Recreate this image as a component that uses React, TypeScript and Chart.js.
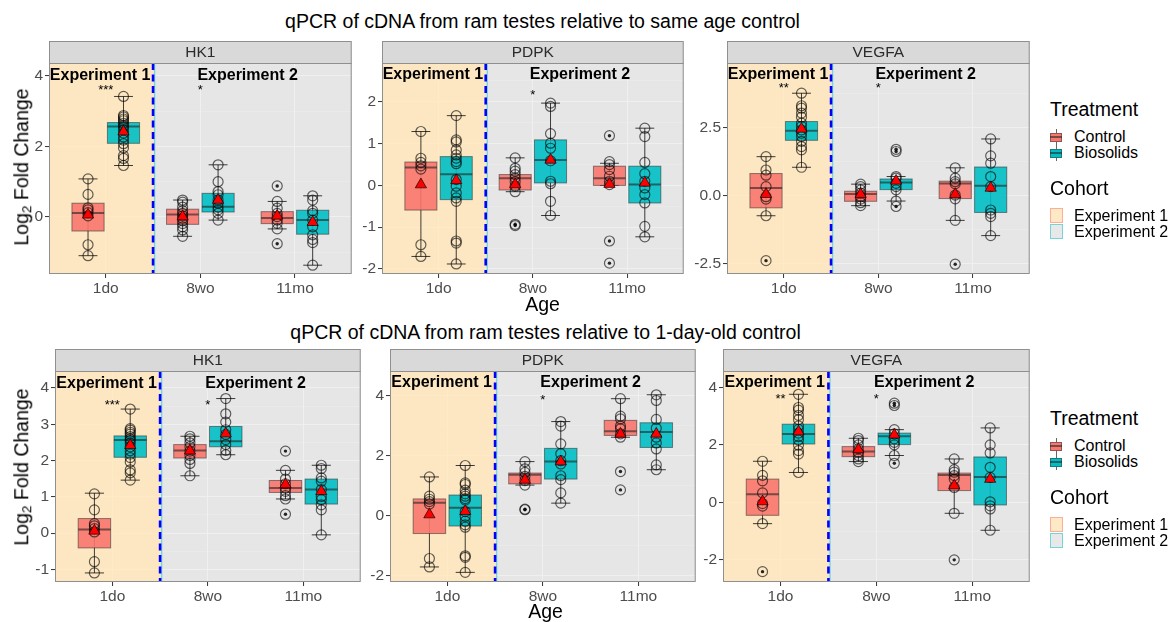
import React, { useEffect, useRef } from "react";
import { Chart, registerables } from "chart.js";

Chart.register(...registerables);

const FONT = "'Liberation Sans', Arial, Helvetica, sans-serif";

// ---------- labels ----------
const ageLabels = ["1do", "8wo", "11mo"];
const treatmentLabels = ["Control", "Biosolids"];
const cohortLabels = ["Experiment 1", "Experiment 2"];
const geneLabels = ["HK1", "PDPK", "VEGFA"];
const rowTitles = [
  "qPCR of cDNA from ram testes relative to same age control",
  "qPCR of cDNA from ram testes relative to 1-day-old control",
];
const treatmentColors = ["#F8766D", "#00BFC4"];

// group order: Control 1do, Biosolids 1do, Control 8wo, Biosolids 8wo, Control 11mo, Biosolids 11mo
// box = [lower whisker, Q1, median, Q3, upper whisker]

// ---------- row 1: relative to same age control ----------
const sameHK1Points = [
  [1.08, 0.64, 0.26, 0.2, 0.12, 0.03, -0.79, -1.1],
  [3.42, 2.88, 2.84, 2.78, 2.73, 2.66, 2.6, 2.55, 2.48, 2.38, 2.27, 2.18, 2.08, 1.96, 1.74, 1.66, 1.46],
  [0.48, 0.42, 0.28, 0.18, 0.1, 0.03, -0.04, -0.11, -0.19, -0.28, -0.37, -0.55],
  [1.48, 1.0, 0.72, 0.63, 0.48, 0.39, 0.28, 0.2, 0.1, -0.09],
  [0.88, 0.44, 0.25, 0.1, 0.01, -0.09, -0.18, -0.34, -0.76],
  [0.6, 0.48, 0.18, 0.1, -0.09, -0.28, -0.51, -0.64, -0.73, -1.37],
];
const sameHK1Boxes = [
  [-1.1, -0.4, 0.11, 0.39, 1.08],
  [1.46, 2.09, 2.57, 2.68, 3.42],
  [-0.55, -0.21, 0.07, 0.22, 0.48],
  [-0.09, 0.14, 0.29, 0.67, 1.48],
  [-0.34, -0.19, -0.03, 0.15, 0.44],
  [-1.37, -0.49, -0.09, 0.19, 0.6],
];
const sameHK1Means = [0.06, 2.42, 0.01, 0.48, 0.03, -0.15];
const sameHK1Outliers = [[], [], [], [], [0.88, -0.76], []];
const sameHK1Ticks = [0, 2, 4];
const sameHK1TickLabels = ["0", "2", "4"];
const sameHK1Range = [-1.62, 4.37];
const sameHK1Stars = ["***", "*", ""];

const samePDPKPoints = [
  [1.29, 0.65, 0.55, 0.47, 0.39, -1.42, -1.7],
  [1.67, 1.09, 1.04, 0.85, 0.73, 0.65, 0.57, 0.52, 0.14, -0.02, -0.18, -0.3, -0.38, -1.33, -1.38, -1.88],
  [0.66, 0.41, 0.34, 0.26, 0.18, 0.09, -0.02, -0.15, -0.93, -0.96],
  [1.97, 1.89, 1.24, 1.01, 0.89, 0.59, 0.1, 0.04, -0.38, -0.72],
  [1.19, 0.57, 0.5, 0.38, 0.22, 0.1, 0.02, -1.33, -1.86],
  [1.37, 1.17, 0.55, 0.28, 0.1, -0.06, -0.22, -0.42, -0.98, -1.23],
];
const samePDPKBoxes = [
  [-1.7, -0.59, 0.43, 0.56, 1.29],
  [-1.88, -0.34, 0.27, 0.69, 1.67],
  [-0.15, -0.11, 0.17, 0.26, 0.66],
  [-0.72, 0.06, 0.61, 1.09, 1.97],
  [0.0, 0.0, 0.17, 0.46, 0.53],
  [-1.23, -0.42, 0.02, 0.46, 1.37],
];
const samePDPKMeans = [0.02, 0.12, 0.02, 0.61, 0.03, 0.06];
const samePDPKOutliers = [[], [], [-0.93, -0.96], [], [1.19, -1.33, -1.86], []];
const samePDPKTicks = [-2, -1, 0, 1, 2];
const samePDPKTickLabels = ["-2", "-1", "0", "1", "2"];
const samePDPKRange = [-2.12, 2.93];
const samePDPKStars = ["", "*", ""];

const sameVEGFAPoints = [
  [1.43, 0.94, 0.75, 0.33, -0.04, -0.13, -0.74, -2.39],
  [3.76, 3.3, 3.21, 3.03, 2.88, 2.66, 2.54, 2.41, 2.29, 2.17, 1.99, 1.8, 1.68, 1.04],
  [0.42, 0.33, 0.21, 0.09, -0.04, -0.13, -0.26, -0.37],
  [1.7, 1.62, 0.7, 0.64, 0.45, 0.33, 0.21, -0.2, -0.4],
  [1.02, 0.64, 0.51, 0.43, 0.02, -0.12, -0.91, -2.52],
  [2.08, 1.46, 1.19, 0.7, 0.33, -0.53, -0.65, -0.77, -1.47],
];
const sameVEGFABoxes = [
  [-0.74, -0.45, 0.28, 0.81, 1.43],
  [1.04, 2.03, 2.38, 2.72, 3.76],
  [-0.37, -0.21, 0.06, 0.16, 0.42],
  [-0.2, 0.22, 0.48, 0.61, 0.7],
  [-0.91, -0.11, 0.44, 0.53, 1.02],
  [-1.47, -0.62, 0.36, 1.05, 2.08],
];
const sameVEGFAMeans = [0.05, 2.45, 0.05, 0.54, 0.05, 0.28];
const sameVEGFAOutliers = [[-2.39], [], [], [1.7, 1.62, -0.4], [-2.52], []];
const sameVEGFATicks = [-2.5, 0, 2.5];
const sameVEGFATickLabels = ["-2.5", "0.0", "2.5"];
const sameVEGFARange = [-2.88, 4.87];
const sameVEGFAStars = ["**", "*", ""];

// ---------- row 2: relative to 1-day-old control ----------
const oneHK1Points = [
  [1.08, 0.64, 0.26, 0.2, 0.12, 0.03, -0.79, -1.1],
  [3.42, 2.88, 2.84, 2.78, 2.73, 2.66, 2.6, 2.55, 2.48, 2.38, 2.27, 2.18, 2.08, 1.96, 1.74, 1.66, 1.46],
  [2.67, 2.6, 2.49, 2.38, 2.26, 2.14, 2.03, 1.92, 1.58],
  [3.71, 3.29, 3.06, 2.85, 2.72, 2.58, 2.44, 2.28, 2.16],
  [2.26, 1.73, 1.49, 1.36, 1.24, 1.15, 1.03, 0.94, 0.52],
  [1.87, 1.78, 1.52, 1.43, 1.2, 1.01, 0.92, 0.78, 0.64, -0.05],
];
const oneHK1Boxes = [
  [-1.1, -0.41, 0.1, 0.4, 1.1],
  [1.46, 2.09, 2.57, 2.68, 3.42],
  [1.58, 2.07, 2.28, 2.44, 2.67],
  [2.16, 2.38, 2.53, 2.94, 3.71],
  [0.94, 1.12, 1.24, 1.45, 1.73],
  [-0.05, 0.8, 1.2, 1.49, 1.87],
];
const oneHK1Means = [0.06, 2.42, 2.27, 2.74, 1.34, 1.15];
const oneHK1Outliers = [[], [], [], [], [2.26, 0.52], []];
const oneHK1Ticks = [-1, 0, 1, 2, 3, 4];
const oneHK1TickLabels = ["-1", "0", "1", "2", "3", "4"];
const oneHK1Range = [-1.35, 4.47];
const oneHK1Stars = ["***", "*", ""];

const onePDPKPoints = [
  [1.29, 0.65, 0.55, 0.47, 0.39, -1.42, -1.7],
  [1.67, 1.09, 1.04, 0.85, 0.73, 0.65, 0.57, 0.52, 0.14, -0.02, -0.18, -0.3, -0.38, -1.33, -1.38, -1.88],
  [1.8, 1.56, 1.44, 1.31, 1.17, 1.02, 0.22, 0.2],
  [3.13, 2.98, 2.39, 2.06, 1.83, 1.72, 1.33, 1.2, 0.76, 0.42],
  [3.89, 3.31, 3.22, 2.98, 2.89, 2.72, 2.61, 1.47, 0.86],
  [4.02, 3.83, 3.2, 2.91, 2.61, 2.42, 2.22, 1.69, 1.53],
];
const onePDPKBoxes = [
  [-1.7, -0.59, 0.43, 0.56, 1.29],
  [-1.88, -0.34, 0.27, 0.69, 1.67],
  [1.02, 1.06, 1.36, 1.42, 1.8],
  [0.42, 1.22, 1.8, 2.24, 3.13],
  [2.61, 2.67, 2.81, 3.17, 3.89],
  [1.53, 2.27, 2.78, 3.09, 4.02],
];
const onePDPKMeans = [0.04, 0.15, 1.19, 1.8, 2.72, 2.72];
const onePDPKOutliers = [[], [], [0.22, 0.2], [], [1.47, 0.86], []];
const onePDPKTicks = [-2, 0, 2, 4];
const onePDPKTickLabels = ["-2", "0", "2", "4"];
const onePDPKRange = [-2.2, 4.81];
const onePDPKStars = ["", "*", ""];

const oneVEGFAPoints = [
  [1.43, 0.94, 0.75, 0.33, -0.04, -0.13, -0.74, -2.41],
  [3.76, 3.3, 3.21, 3.03, 2.88, 2.66, 2.54, 2.41, 2.29, 2.17, 1.99, 1.8, 1.68, 1.04],
  [2.23, 2.15, 2.0, 1.86, 1.74, 1.63, 1.51, 1.42],
  [3.45, 3.37, 2.53, 2.38, 2.21, 2.09, 2.0, 1.63, 1.36],
  [1.51, 1.14, 1.05, 0.93, 0.81, 0.52, -0.38, -2.0],
  [2.59, 2.0, 1.72, 1.22, 0.87, 0.02, -0.12, -0.23, -0.97],
];
const oneVEGFABoxes = [
  [-0.74, -0.45, 0.28, 0.81, 1.43],
  [1.04, 2.03, 2.38, 2.72, 3.76],
  [1.42, 1.59, 1.77, 1.94, 2.23],
  [1.63, 2.01, 2.3, 2.41, 2.53],
  [-0.38, 0.41, 0.95, 1.02, 1.51],
  [-0.97, -0.09, 0.88, 1.58, 2.59],
];
const oneVEGFAMeans = [0.03, 2.46, 1.84, 2.35, 0.58, 0.81];
const oneVEGFAOutliers = [[-2.41], [], [], [3.45, 3.37, 1.36], [-2.0], []];
const oneVEGFATicks = [-2, 0, 2, 4];
const oneVEGFATickLabels = ["-2", "0", "2", "4"];
const oneVEGFARange = [-2.77, 4.57];
const oneVEGFAStars = ["**", "*", ""];

// ---------- geometry / style constants ----------
const X_MIN = 0.4;
const X_MAX = 3.6;
const COHORT_SPLIT = 1.5;
const DODGE = 0.1875;
const BOX_HALF = 0.17;
const CAP_HALF = 0.1;
const AXIS_W = 40;
const AXIS_H = 26;
const STRIP_H = 22;

type PanelData = {
  gene: string;
  points: number[][];
  boxes: number[][];
  means: number[];
  outliers: number[][];
  range: number[];
  ticks: number[];
  tickLabels: string[];
  stars: string[];
  expY: number;
  starY: number;
};

const rowPanels: PanelData[][] = [
  [
    { gene: geneLabels[0], points: sameHK1Points, boxes: sameHK1Boxes, means: sameHK1Means, outliers: sameHK1Outliers, range: sameHK1Range, ticks: sameHK1Ticks, tickLabels: sameHK1TickLabels, stars: sameHK1Stars, expY: 4.06, starY: 3.7 },
    { gene: geneLabels[1], points: samePDPKPoints, boxes: samePDPKBoxes, means: samePDPKMeans, outliers: samePDPKOutliers, range: samePDPKRange, ticks: samePDPKTicks, tickLabels: samePDPKTickLabels, stars: samePDPKStars, expY: 2.69, starY: 2.25 },
    { gene: geneLabels[2], points: sameVEGFAPoints, boxes: sameVEGFABoxes, means: sameVEGFAMeans, outliers: sameVEGFAOutliers, range: sameVEGFARange, ticks: sameVEGFATicks, tickLabels: sameVEGFATickLabels, stars: sameVEGFAStars, expY: 4.5, starY: 4.07 },
  ],
  [
    { gene: geneLabels[0], points: oneHK1Points, boxes: oneHK1Boxes, means: oneHK1Means, outliers: oneHK1Outliers, range: oneHK1Range, ticks: oneHK1Ticks, tickLabels: oneHK1TickLabels, stars: oneHK1Stars, expY: 4.17, starY: 3.64 },
    { gene: geneLabels[1], points: onePDPKPoints, boxes: onePDPKBoxes, means: onePDPKMeans, outliers: onePDPKOutliers, range: onePDPKRange, ticks: onePDPKTicks, tickLabels: onePDPKTickLabels, stars: onePDPKStars, expY: 4.48, starY: 3.98 },
    { gene: geneLabels[2], points: oneVEGFAPoints, boxes: oneVEGFABoxes, means: oneVEGFAMeans, outliers: oneVEGFAOutliers, range: oneVEGFARange, ticks: oneVEGFATicks, tickLabels: oneVEGFATickLabels, stars: oneVEGFAStars, expY: 4.22, starY: 3.72 },
  ],
];

const rowLayout = [
  { stripTop: 41, plotBottom: 274, xs: [[49, 358], [382, 690], [727, 1036]], titleY: 22, ageY: 305, yTitleY: 167, legendDy: 0 },
  { stripTop: 349, plotBottom: 582, xs: [[55, 367], [390, 702], [723, 1036]], titleY: 333, ageY: 612, yTitleY: 467, legendDy: 309 },
];

const groupX = (g: number) => Math.floor(g / 2) + 1 + (g % 2 === 0 ? -DODGE : DODGE);

function minorTicks(majors: number[], range: number[]) {
  const step = majors[1] - majors[0];
  const out: number[] = [];
  for (const m of majors) out.push(m - step / 2);
  out.push(majors[majors.length - 1] + step / 2);
  return out.filter((v) => v > range[0] && v < range[1]);
}

function isMajor(d: PanelData, v: number) {
  return d.ticks.some((t) => Math.abs(t - v) < 1e-9);
}

function makeDecor(d: PanelData) {
  return {
    id: "decor",
    beforeDraw(chart: any) {
      const { ctx, chartArea: a } = chart;
      ctx.save();
      ctx.fillStyle = "#EBEBEB";
      ctx.fillRect(a.left, a.top, a.right - a.left, a.bottom - a.top);
      ctx.restore();
    },
    beforeDatasetsDraw(chart: any) {
      const { ctx, chartArea: a, scales } = chart;
      const xs = scales.x;
      const ys = scales.y;
      const h = a.bottom - a.top;
      const xb = xs.getPixelForValue(COHORT_SPLIT);
      ctx.save();
      // cohort regions
      ctx.fillStyle = "rgba(255,230,186,0.84)";
      ctx.fillRect(a.left, a.top, xb - a.left, h);
      ctx.fillStyle = "rgba(224,224,224,0.45)";
      ctx.fillRect(xb, a.top, a.right - xb, h);
      ctx.strokeStyle = "rgba(0,191,196,0.5)";
      ctx.lineWidth = 1.2;
      ctx.beginPath();
      ctx.moveTo(xb + 1.6, a.top);
      ctx.lineTo(xb + 1.6, a.bottom);
      ctx.stroke();
      // dashed split line
      ctx.strokeStyle = "#0000FF";
      ctx.lineWidth = 2.6;
      ctx.setLineDash([7, 4.5]);
      ctx.beginPath();
      ctx.moveTo(xb, a.top);
      ctx.lineTo(xb, a.bottom);
      ctx.stroke();
      ctx.setLineDash([]);
      // box plots
      const unit = xs.getPixelForValue(2) - xs.getPixelForValue(1);
      d.boxes.forEach((b, g) => {
        const cx = xs.getPixelForValue(groupX(g));
        const [lo, q1, med, q3, hi] = b.map((v) => ys.getPixelForValue(v));
        const cap = CAP_HALF * unit;
        const bw = BOX_HALF * unit;
        ctx.strokeStyle = "rgba(0,0,0,0.75)";
        ctx.lineWidth = 1;
        ctx.beginPath();
        ctx.moveTo(cx, lo);
        ctx.lineTo(cx, hi);
        ctx.moveTo(cx - cap, lo);
        ctx.lineTo(cx + cap, lo);
        ctx.moveTo(cx - cap, hi);
        ctx.lineTo(cx + cap, hi);
        ctx.stroke();
        ctx.globalAlpha = 0.9;
        ctx.fillStyle = treatmentColors[g % 2];
        ctx.fillRect(cx - bw, q3, 2 * bw, q1 - q3);
        ctx.globalAlpha = 1;
        ctx.strokeStyle = "rgba(45,45,45,0.55)";
        ctx.lineWidth = 1;
        ctx.strokeRect(cx - bw, q3, 2 * bw, q1 - q3);
        ctx.strokeStyle = "rgba(35,35,35,0.6)";
        ctx.lineWidth = 2;
        ctx.beginPath();
        ctx.moveTo(cx - bw, med);
        ctx.lineTo(cx + bw, med);
        ctx.stroke();
      });
      ctx.restore();
    },
    afterDatasetsDraw(chart: any) {
      const { ctx, scales } = chart;
      const xs = scales.x;
      const ys = scales.y;
      ctx.save();
      ctx.fillStyle = "#000";
      ctx.textAlign = "center";
      ctx.textBaseline = "middle";
      ctx.font = `bold 16px ${FONT}`;
      const ey = ys.getPixelForValue(d.expY) + 2;
      ctx.fillText(cohortLabels[0], xs.getPixelForValue(0.94), ey);
      ctx.fillText(cohortLabels[1], xs.getPixelForValue(2.5), ey);
      ctx.font = `13px ${FONT}`;
      d.stars.forEach((s, i) => {
        if (s) ctx.fillText(s, xs.getPixelForValue(i + 1), ys.getPixelForValue(d.starY) + 4);
      });
      ctx.restore();
    },
    afterDraw(chart: any) {
      const { ctx, chartArea: a } = chart;
      const w = a.right - a.left;
      ctx.save();
      ctx.strokeStyle = "#8F8F8F";
      ctx.lineWidth = 1;
      ctx.strokeRect(a.left + 0.5, a.top + 0.5, w - 1, a.bottom - a.top - 1);
      ctx.fillStyle = "#D9D9D9";
      ctx.fillRect(a.left, a.top - STRIP_H, w, STRIP_H);
      ctx.strokeRect(a.left + 0.5, a.top - STRIP_H + 0.5, w - 1, STRIP_H);
      ctx.fillStyle = "#2B2B2B";
      ctx.font = `15.5px ${FONT}`;
      ctx.textAlign = "center";
      ctx.textBaseline = "middle";
      ctx.fillText(d.gene, (a.left + a.right) / 2, a.top - STRIP_H / 2 + 1);
      ctx.restore();
    },
  };
}

function Panel({ d, left, top, width, height }: { d: PanelData; left: number; top: number; width: number; height: number }) {
  const ref = useRef<HTMLCanvasElement>(null);
  useEffect(() => {
    const circles = d.points.flatMap((arr, g) => arr.map((v) => ({ x: groupX(g), y: v })));
    const dots = d.outliers.flatMap((arr, g) => arr.map((v) => ({ x: groupX(g), y: v })));
    const means = d.means.map((v, g) => ({ x: groupX(g), y: v }));
    const minors = minorTicks(d.ticks, d.range);
    const yTickValues = [...d.ticks, ...minors].sort((p, q) => p - q);
    const chart = new Chart(ref.current as HTMLCanvasElement, {
      type: "scatter",
      data: {
        datasets: [
          {
            data: means,
            order: 0,
            pointStyle: "triangle",
            pointRadius: 6.5,
            backgroundColor: "#FF0000",
            borderColor: "rgba(0,0,0,0.8)",
            borderWidth: 0.8,
          },
          {
            data: dots,
            order: 1,
            pointStyle: "circle",
            pointRadius: 1.7,
            backgroundColor: "rgba(0,0,0,0.85)",
            borderColor: "rgba(0,0,0,0.85)",
            borderWidth: 0,
          },
          {
            data: circles,
            order: 2,
            pointStyle: "circle",
            pointRadius: 5,
            backgroundColor: "rgba(0,0,0,0)",
            borderColor: "rgba(0,0,0,0.6)",
            borderWidth: 1.2,
          },
        ],
      } as any,
      options: {
        animation: false,
        responsive: false,
        maintainAspectRatio: false,
        events: [],
        layout: { padding: { top: STRIP_H, right: 1, left: 0, bottom: 0 } },
        plugins: { legend: { display: false }, tooltip: { enabled: false } },
        scales: {
          x: {
            type: "linear",
            min: X_MIN,
            max: X_MAX,
            afterBuildTicks: (s: any) => {
              s.ticks = ageLabels.map((_, i) => ({ value: i + 1 }));
            },
            afterFit: (s: any) => {
              s.height = AXIS_H;
            },
            border: { display: false },
            grid: { color: "rgba(255,255,255,0.9)", lineWidth: 1.1, tickLength: 4, tickColor: "#333333", tickWidth: 1 },
            ticks: {
              autoSkip: false,
              maxRotation: 0,
              padding: 1,
              color: "#4D4D4D",
              font: { family: FONT, size: 15.5 },
              callback: (v: any) => ageLabels[Math.round(Number(v)) - 1],
            },
          },
          y: {
            type: "linear",
            min: d.range[0],
            max: d.range[1],
            afterBuildTicks: (s: any) => {
              s.ticks = yTickValues.map((v) => ({ value: v }));
            },
            afterFit: (s: any) => {
              s.width = AXIS_W;
            },
            border: { display: false },
            grid: {
              color: (c: any) => (isMajor(d, c.tick.value) ? "rgba(255,255,255,0.95)" : "rgba(255,255,255,0.6)"),
              lineWidth: (c: any) => (isMajor(d, c.tick.value) ? 1.1 : 0.6),
              tickLength: 4,
              tickColor: (c: any) => (isMajor(d, c.tick.value) ? "#333333" : "rgba(0,0,0,0)"),
              tickWidth: 1,
            },
            ticks: {
              autoSkip: false,
              padding: 2,
              color: "#4D4D4D",
              font: { family: FONT, size: 15.5 },
              callback: (v: any) => {
                const i = d.ticks.findIndex((t) => Math.abs(t - Number(v)) < 1e-9);
                return i >= 0 ? d.tickLabels[i] : "";
              },
            },
          },
        },
      } as any,
      plugins: [makeDecor(d) as any],
    });
    return () => chart.destroy();
  }, []);
  return (
    <canvas
      ref={ref}
      width={width}
      height={height}
      style={{ position: "absolute", left, top, width, height }}
    />
  );
}

function Legend({ dy }: { dy: number }) {
  const txt = (label: string, top: number, size: number, left: number) => (
    <div
      style={{
        position: "absolute",
        left,
        top: top + dy,
        transform: "translateY(-50%)",
        fontSize: size,
        lineHeight: 1,
        whiteSpace: "nowrap",
        color: "#000",
      }}
    >
      {label}
    </div>
  );
  const boxKey = (color: string, c: number) => (
    <div key={color} style={{ position: "absolute", left: 1050, top: c + dy - 8, width: 12, height: 16 }}>
      <div style={{ position: "absolute", left: 5.5, top: 0, width: 1, height: 16, background: "rgba(0,0,0,0.6)" }} />
      <div
        style={{
          position: "absolute",
          left: 0,
          top: 3.5,
          width: 12,
          height: 9,
          boxSizing: "border-box",
          background: color,
          border: "1px solid rgba(60,60,60,0.55)",
        }}
      />
      <div style={{ position: "absolute", left: 0, top: 7, width: 12, height: 1.6, background: "rgba(40,40,40,0.6)" }} />
    </div>
  );
  return (
    <>
      {txt("Treatment", 110, 19.5, 1050)}
      {boxKey(treatmentColors[0], 137)}
      {txt(treatmentLabels[0], 137, 16, 1074)}
      {boxKey(treatmentColors[1], 153)}
      {txt(treatmentLabels[1], 153, 16, 1074)}
      {txt("Cohort", 189, 19.5, 1050)}
      <div
        style={{
          position: "absolute",
          left: 1050,
          top: 208 + dy,
          width: 13,
          height: 15,
          boxSizing: "border-box",
          background: "#FFE8C5",
          border: "1.5px solid rgba(248,118,109,0.5)",
        }}
      />
      {txt(cohortLabels[0], 216, 16, 1074)}
      <div
        style={{
          position: "absolute",
          left: 1050,
          top: 223.5 + dy,
          width: 13,
          height: 15,
          boxSizing: "border-box",
          background: "#E8E8E8",
          border: "1.5px solid rgba(0,191,196,0.5)",
        }}
      />
      {txt(cohortLabels[1], 232, 16, 1074)}
    </>
  );
}

export default function App() {
  return (
    <div
      style={{
        position: "absolute",
        left: 0,
        top: 0,
        width: 1171,
        height: 622,
        background: "#FFFFFF",
        overflow: "hidden",
        fontFamily: FONT,
      }}
    >
      {rowLayout.map((row, r) => {
        const center = (row.xs[0][0] + row.xs[2][1]) / 2;
        return (
          <React.Fragment key={r}>
            <div
              style={{
                position: "absolute",
                left: center,
                top: row.titleY,
                transform: "translate(-50%,-50%)",
                fontSize: 19.5,
                lineHeight: 1,
                whiteSpace: "nowrap",
                color: "#000",
              }}
            >
              {rowTitles[r]}
            </div>
            {rowPanels[r].map((d, p) => {
              const [x0, x1] = row.xs[p];
              return (
                <Panel
                  key={p}
                  d={d}
                  left={x0 - AXIS_W}
                  top={row.stripTop}
                  width={x1 - x0 + AXIS_W + 1}
                  height={row.plotBottom - row.stripTop + AXIS_H}
                />
              );
            })}
            <div
              style={{
                position: "absolute",
                left: center,
                top: row.ageY,
                transform: "translate(-50%,-50%)",
                fontSize: 19.5,
                lineHeight: 1,
                whiteSpace: "nowrap",
                color: "#000",
              }}
            >
              Age
            </div>
            <div
              style={{
                position: "absolute",
                left: 22,
                top: row.yTitleY,
                transform: "translate(-50%,-50%) rotate(-90deg)",
                fontSize: 19.5,
                lineHeight: 1,
                whiteSpace: "nowrap",
                color: "#000",
              }}
            >
              Log<sub style={{ fontSize: "70%", verticalAlign: "-0.25em", lineHeight: 0 }}>2</sub> Fold Change
            </div>
            <Legend dy={row.legendDy} />
          </React.Fragment>
        );
      })}
    </div>
  );
}
